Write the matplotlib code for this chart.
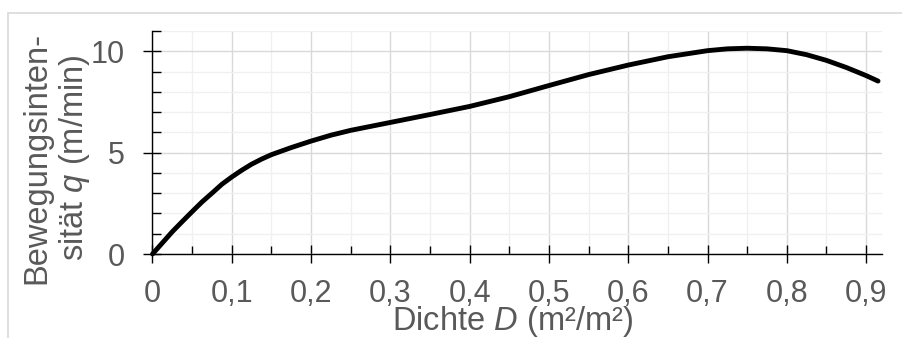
import matplotlib
matplotlib.use("Agg")
import matplotlib.pyplot as plt
from matplotlib.patches import Rectangle
from matplotlib.ticker import MultipleLocator, FuncFormatter

plt.rcParams['font.family'] = ['Liberation Sans', 'DejaVu Sans']
plt.rcParams['mathtext.fontset'] = 'custom'
plt.rcParams['mathtext.rm'] = 'Liberation Sans'
plt.rcParams['mathtext.it'] = 'Liberation Sans:italic'

# data
density = [0, 0.0125, 0.025, 0.0375, 0.05, 0.0625, 0.075, 0.0875, 0.1, 0.1125,
           0.125, 0.1375, 0.15, 0.175, 0.2, 0.225, 0.25, 0.3, 0.35, 0.4, 0.45,
           0.5, 0.55, 0.6, 0.65, 0.7, 0.725, 0.75, 0.775, 0.8, 0.825, 0.85,
           0.875, 0.9, 0.915]
flow = [0, 0.55, 1.1, 1.6, 2.09, 2.57, 3.0, 3.44, 3.8, 4.13,
        4.43, 4.68, 4.9, 5.25, 5.57, 5.86, 6.1, 6.49, 6.88, 7.28, 7.76,
        8.31, 8.85, 9.32, 9.73, 10.03, 10.12, 10.15, 10.12, 10.03, 9.83, 9.55,
        9.2, 8.8, 8.53]
x_ticks = [0, 0.1, 0.2, 0.3, 0.4, 0.5, 0.6, 0.7, 0.8, 0.9]
y_ticks = [0, 5, 10]

W, H = 903, 338
fig = plt.figure(figsize=(W / 100, H / 100), dpi=100)

# light frame
fig.patches.append(Rectangle((8 / W, 0 - 0.05), 1.1, 1 - 13 / H + 0.05,
                             transform=fig.transFigure, fill=False,
                             edgecolor='#d9d9d9', linewidth=1.2))

ax = fig.add_axes([152.5 / W, 1 - 254 / H, (882 - 152.5) / W, (254 - 31) / H])
ax.plot(density, flow, color='black', linewidth=3.5, solid_capstyle='round',
        solid_joinstyle='round', zorder=3, clip_on=False)

ax.set_xlim(0, 0.92)
ax.set_ylim(0, 11)
ax.set_xticks(x_ticks)
ax.set_yticks(y_ticks)
ax.xaxis.set_minor_locator(MultipleLocator(0.05))
ax.yaxis.set_minor_locator(MultipleLocator(1))
ax.xaxis.set_major_formatter(FuncFormatter(lambda v, p: ('%g' % round(v, 2)).replace('.', ',')))

ax.grid(True, which='major', color='#d9d9d9', linewidth=1.0)
ax.grid(True, which='minor', color='#f0f0f0', linewidth=1.0)
ax.set_axisbelow(True)

for s in ['top', 'right']:
    ax.spines[s].set_visible(False)
for s in ['left', 'bottom']:
    ax.spines[s].set_color('black')
    ax.spines[s].set_linewidth(1.0)

ax.tick_params(which='major', direction='inout', length=13.5, width=1.0,
               color='black', labelsize=22, labelcolor='#595959')
ax.tick_params(axis='x', which='major', pad=11)
ax.tick_params(axis='y', which='major', pad=13)
ax.tick_params(which='minor', direction='in', length=5.5, width=1.0, color='black')
ax.tick_params(axis='y', which='minor', length=6.5)

fig.text(512.5 / W, 1 - 330 / H, 'Dichte $D$ (m²/m²)', fontsize=23.5,
         color='#595959', ha='center', va='baseline')
fig.text(45 / W, 1 - 158 / H, 'Bewegungsinten-', fontsize=23.5, color='#595959',
         rotation=90, rotation_mode='anchor', ha='center', va='baseline')
fig.text(83 / W, 1 - 158 / H, 'sität $q$ (m/min)', fontsize=23.5, color='#595959',
         rotation=90, rotation_mode='anchor', ha='center', va='baseline')

fig.savefig('out.png', dpi=100)
